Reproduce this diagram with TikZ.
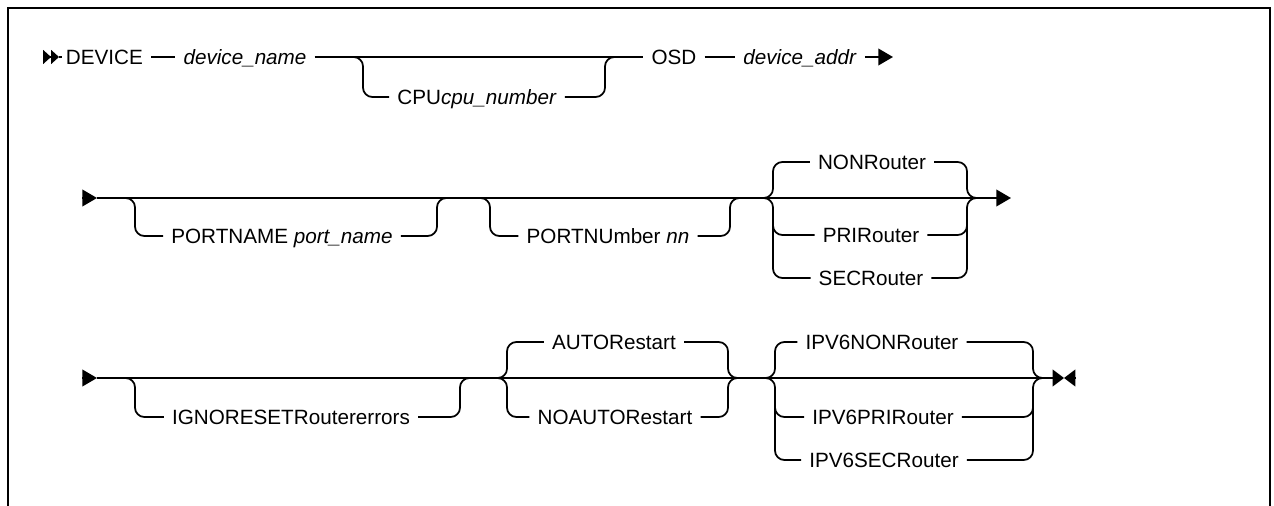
\documentclass[tikz,border=0pt]{standalone}
\usepackage{fontspec}
\setmainfont{Liberation Sans}
\usetikzlibrary{arrows.meta}

\begin{document}
\begin{tikzpicture}[x=0.75pt, y=-0.75pt, line width=1.3pt,
		kw/.style={font=\fontsize{15.5}{18}\selectfont, inner xsep=5.5pt, inner ysep=0pt,
			text height=11pt, text depth=0pt},
		rail/.style={rounded corners=7pt},
		tip/.style={-{Triangle[length=11pt,width=12.5pt]}},
		stop/.style={-{Triangle[length=8.5pt,width=12.5pt]}}]
		\useasboundingbox (0,0) rectangle (1274,506);
		% frame, open at the bottom
		\draw[line width=2.2pt] (8,506) -- (8,8) -- (1270,8) -- (1270,506);

		% first line
		\coordinate (s0) at (45,57);
		\coordinate (s1) at (59,57);
		\coordinate (s1b) at (62,57);
		\draw[-{Triangle[length=6pt,width=10.5pt]Triangle[length=6pt,width=10.5pt]}] (s0) -- (s1);
		\draw (s1) -- (s1b);
		\node[kw, anchor=west, inner xsep=0pt] (dev) at (65,57) {DEVICE};
		\node[kw] (devn) at (245,57) {\textit{device\_name}};
		\node[kw] (cpu) at (477,97) {CPU\textit{cpu\_number}};
		\node[kw] (osd) at (674,57) {OSD};
		\node[kw] (addr) at (800,57) {\textit{device\_addr}};
		\coordinate (e1) at (893,57);
		\draw ([xshift=5.5pt]dev.east) -- (devn.west);
		\draw (devn.east) -- (osd.west);
		\coordinate (c1) at (345,57);
		\coordinate (c2) at (363,97);
		\coordinate (c3) at (605,97);
		\coordinate (c4) at (625,57);
		\draw[rail] (c1) -| (c2) -- (cpu.west);
		\draw[rail] (cpu.east) -- (c3) |- (c4);
		\draw (osd.east) -- (addr.west);
		\draw[tip] (addr.east) -- (e1);

		% second line
		\coordinate (s2) at (82,198);
		\coordinate (s3) at (97,198);
		\coordinate (e2) at (1011,198);
		\draw[tip] (s2) -- (s3);
		\draw[tip] (s3) -- (e2);
		\node[kw] (pname) at (282,236) {PORTNAME \textit{port\_name}};
		\node[kw] (pnum) at (608,236) {PORTNUmber \textit{nn}};
		\coordinate (p1) at (115,198);
		\coordinate (p2) at (135,236);
		\coordinate (p3) at (437,236);
		\coordinate (p4) at (457,198);
		\draw[rail] (p1) -| (p2) -- (pname.west);
		\draw[rail] (pname.east) -- (p3) |- (p4);
		\coordinate (p5) at (470,198);
		\coordinate (p6) at (490,236);
		\coordinate (p7) at (730,236);
		\coordinate (p8) at (750,198);
		\draw[rail] (p5) -| (p6) -- (pnum.west);
		\draw[rail] (pnum.east) -- (p7) |- (p8);
		\node[kw] (nonr) at (872,162) {NONRouter};
		\node[kw] (prir) at (871,235) {PRIRouter};
		\node[kw] (secr) at (871,278) {SECRouter};
		\coordinate (gl) at (763,198);
		\coordinate (gl1) at (773,198);
		\coordinate (gl2) at (773,212);
		\coordinate (gr) at (977,198);
		\coordinate (gr1) at (967,198);
		\coordinate (gr2) at (967,212);
		\draw[rail] (nonr.west) -| (gl1) -- (gl);
		\draw[rail] (gl) -- (gl1) |- (secr.west);
		\draw[rail] (gl2) |- (prir.west);
		\draw[rail] (nonr.east) -| (gr1) -- (gr);
		\draw[rail] (gr) -- (gr1) |- (secr.east);
		\draw[rail] (gr2) |- (prir.east);

		% third line
		\coordinate (s4) at (82,378);
		\coordinate (s5) at (97,378);
		\draw[tip] (s4) -- (s5);
		\node[kw] (ign) at (291,417) {IGNORESETRoutererrors};
		\coordinate (i1) at (115,378);
		\coordinate (i2) at (135,417);
		\coordinate (i3) at (460,417);
		\coordinate (i4) at (480,378);
		\draw[rail] (i1) -| (i2) -- (ign.west);
		\draw[rail] (ign.east) -- (i3) |- (i4);
		\node[kw] (auto) at (614,342) {AUTORestart};
		\node[kw] (noauto) at (615,417) {NOAUTORestart};
		\coordinate (al) at (497,378);
		\coordinate (al1) at (507,378);
		\coordinate (ar1) at (728,378);
		\coordinate (ar) at (738,378);
		\draw[rail] (auto.west) -| (al1) -- (al);
		\draw[rail] (al) -- (al1) |- (noauto.west);
		\draw[rail] (auto.east) -| (ar1) -- (ar);
		\draw[rail] (ar) -- (ar1) |- (noauto.east);
		\node[kw] (vnon) at (882,342) {IPV6NONRouter};
		\node[kw] (vpri) at (883,417) {IPV6PRIRouter};
		\node[kw] (vsec) at (884,460) {IPV6SECRouter};
		\coordinate (vl) at (765,378);
		\coordinate (vl1) at (775,378);
		\coordinate (vl2) at (775,392);
		\coordinate (vr1) at (1033,378);
		\coordinate (vr) at (1043,378);
		\coordinate (vr2) at (1033,392);
		\draw[rail] (vnon.west) -| (vl1) -- (vl);
		\draw[rail] (vl) -- (vl1) |- (vsec.west);
		\draw[rail] (vl2) |- (vpri.west);
		\draw[rail] (vnon.east) -| (vr1) -- (vr);
		\draw[rail] (vr) -- (vr1) |- (vsec.east);
		\draw[rail] (vr2) |- (vpri.east);
		\draw (s5) -- (vr);
		\coordinate (e3) at (1064,378);
		\coordinate (e4) at (1076,378);
		\draw[stop] (vr) -- (e3);
		\draw[stop] (e4) -- (e3);
	\end{tikzpicture}
\end{document}
